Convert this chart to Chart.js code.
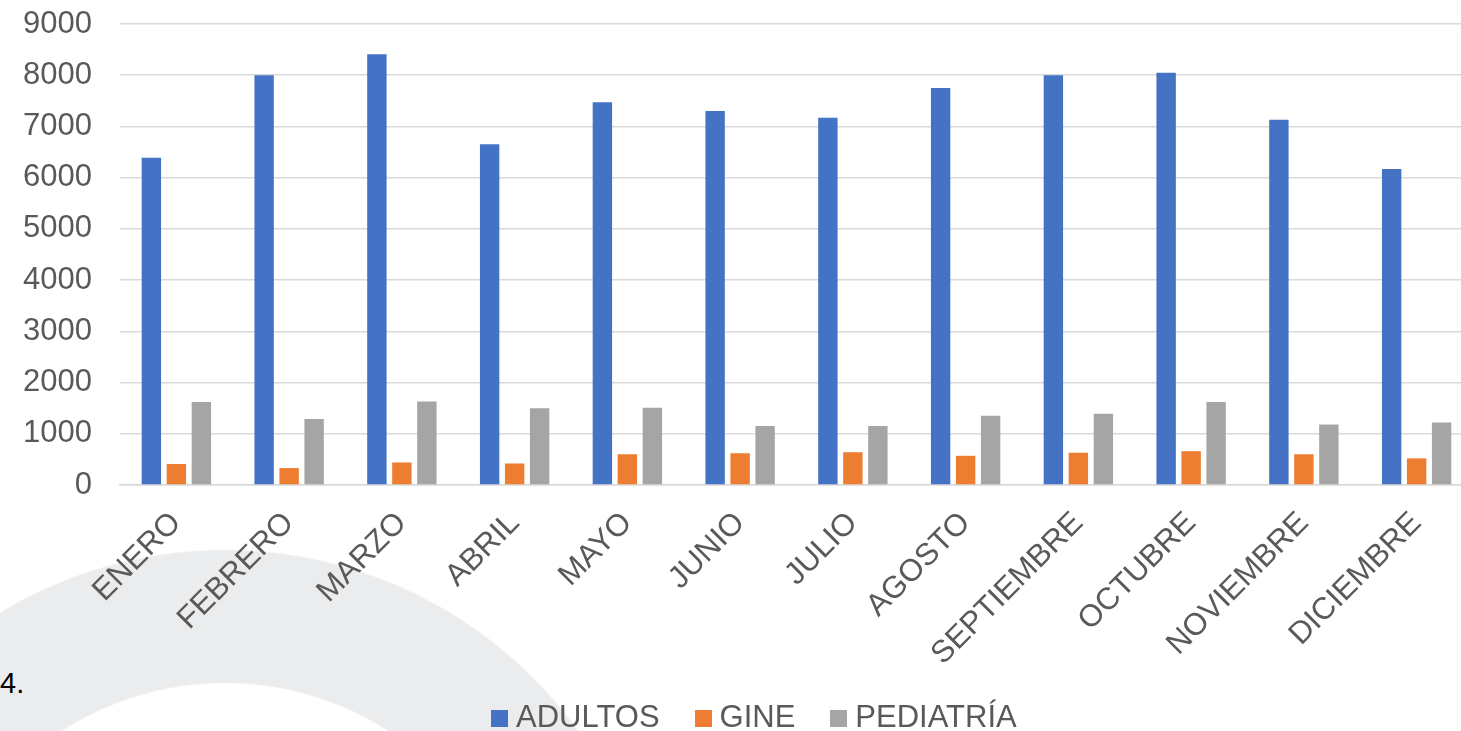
<!DOCTYPE html>
<html>
<head>
<meta charset="utf-8">
<script src="https://cdn.jsdelivr.net/npm/chart.js@4.4.1/dist/chart.umd.min.js"></script>
<style>
  html, body { margin:0; padding:0; width:1461px; height:731px; overflow:hidden; background:#fff; }
  #wrap {
    position:relative; width:1461px; height:731px; overflow:hidden;
    background: radial-gradient(circle at 225px 985px, rgba(235,236,238,0) 301px, #ebecee 303px, #ebecee 434px, rgba(235,236,238,0) 436px);
  }
  #box { position:absolute; left:0; top:0; width:1473px; height:731px; }
  #num { position:absolute; left:0; top:667px; font:29px "Liberation Sans", Arial, sans-serif; color:#000; }
  #legend { position:absolute; left:491px; top:701px; font:31px "Liberation Sans", Arial, sans-serif; line-height:31px; color:#595959; white-space:nowrap; }
  #legend span.item { margin-right:35px; }
  #legend i { display:inline-block; width:17px; height:17px; margin-right:8px; vertical-align:baseline; }
</style>
</head>
<body>
<div id="wrap">
  <div id="num">4.</div>
  <div id="box"><canvas id="c"></canvas></div>
  <div id="legend"></div>
</div>
<script>
// Data
const months = ["ENERO","FEBRERO","MARZO","ABRIL","MAYO","JUNIO","JULIO","AGOSTO","SEPTIEMBRE","OCTUBRE","NOVIEMBRE","DICIEMBRE"];
const adultos = [6390, 8000, 8410, 6650, 7470, 7300, 7170, 7750, 8000, 8050, 7130, 6170];
const gine = [410, 330, 440, 420, 600, 620, 640, 570, 630, 660, 600, 520];
const pediatria = [1620, 1290, 1630, 1500, 1510, 1150, 1150, 1350, 1390, 1620, 1180, 1220];
const seriesNames = ["ADULTOS", "GINE", "PEDIATRÍA"];
const seriesColors = ["#4472c4", "#ed7d31", "#a5a5a5"];
const yTicks = [0,1000,2000,3000,4000,5000,6000,7000,8000,9000];

const font = { family: "'Liberation Sans', Arial, sans-serif", size: 31 };

// legend in html
const legend = document.getElementById("legend");
seriesNames.forEach((n,i)=>{
  const s = document.createElement("span");
  s.className = "item";
  s.innerHTML = `<i style="background:${seriesColors[i]}"></i>${n}`;
  legend.appendChild(s);
});

const series = [adultos, gine, pediatria];
new Chart(document.getElementById("c"), {
  type: "bar",
  data: {
    labels: months,
    datasets: series.map((d,i)=>({
      label: seriesNames[i],
      data: d,
      backgroundColor: seriesColors[i],
      categoryPercentage: 0.665,
      barPercentage: 0.776
    }))
  },
  options: {
    responsive: true,
    maintainAspectRatio: false,
    animation: false,
    layout: { padding: { top: 24, right: 0, bottom: 46, left: 0 } },
    plugins: { legend: { display: false }, tooltip: { enabled: false } },
    scales: {
      x: {
        grid: { display: false, drawTicks: false },
        border: { display: true, color: "#d9d9d9", width: 1.5 },
        ticks: { color: "#595959", font, minRotation: 45, maxRotation: 45, padding: 20, autoSkip: false },
        afterFit: s => { s.height = 200; }
      },
      y: {
        min: 0, max: 9000,
        afterBuildTicks: s => { s.ticks = yTicks.map(v=>({value:v})); },
        grid: { color: "#d9d9d9", lineWidth: 1.5, drawTicks: false },
        border: { display: false },
        ticks: { color: "#595959", font, padding: 28, callback: v => String(v) },
        // tick padding would otherwise push the plot top down
        afterFit: s => { s.width = 120; s.paddingTop = 0; s.paddingBottom = 0; }
      }
    }
  }
});
</script>
</body>
</html>
